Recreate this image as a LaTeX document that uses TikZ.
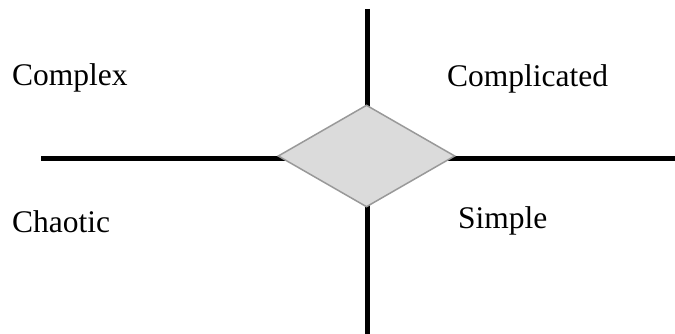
\documentclass[tikz,border=0pt]{standalone}
\usepackage{fontspec}
\setmainfont{Liberation Serif}
\usetikzlibrary{shapes.geometric}

\tikzset{
  axisline/.style={line width=5pt},
  domainlabel/.style={anchor=base west, inner sep=0pt, font=\fontsize{31.5}{36}\selectfont},
  centerbox/.style={diamond, draw=black!40, fill=black!14, line width=1.5pt,
    minimum width=177pt, minimum height=102pt, inner sep=0pt}
}

\begin{document}
\begin{tikzpicture}[x=1pt,y=-1pt]
  \useasboundingbox (0,0) rectangle (675,334);
  % axes
  \coordinate (top) at (367.5,9);
  \coordinate (bottom) at (367.5,334);
  \coordinate (left) at (41,158.5);
  \coordinate (right) at (675,158.5);
  \draw[axisline] (top) -- (bottom);
  \draw[axisline] (left) -- (right);
  % centre
  \node[centerbox] (core) at (366.5,156) {};
  % domains
  \node[domainlabel] (complex) at (12,86) {Complex};
  \node[domainlabel] (complicated) at (447,87) {Complicated};
  \node[domainlabel] (chaotic) at (12,232) {Chaotic};
  \node[domainlabel] (simple) at (458,228) {Simple};
\end{tikzpicture}
\end{document}
